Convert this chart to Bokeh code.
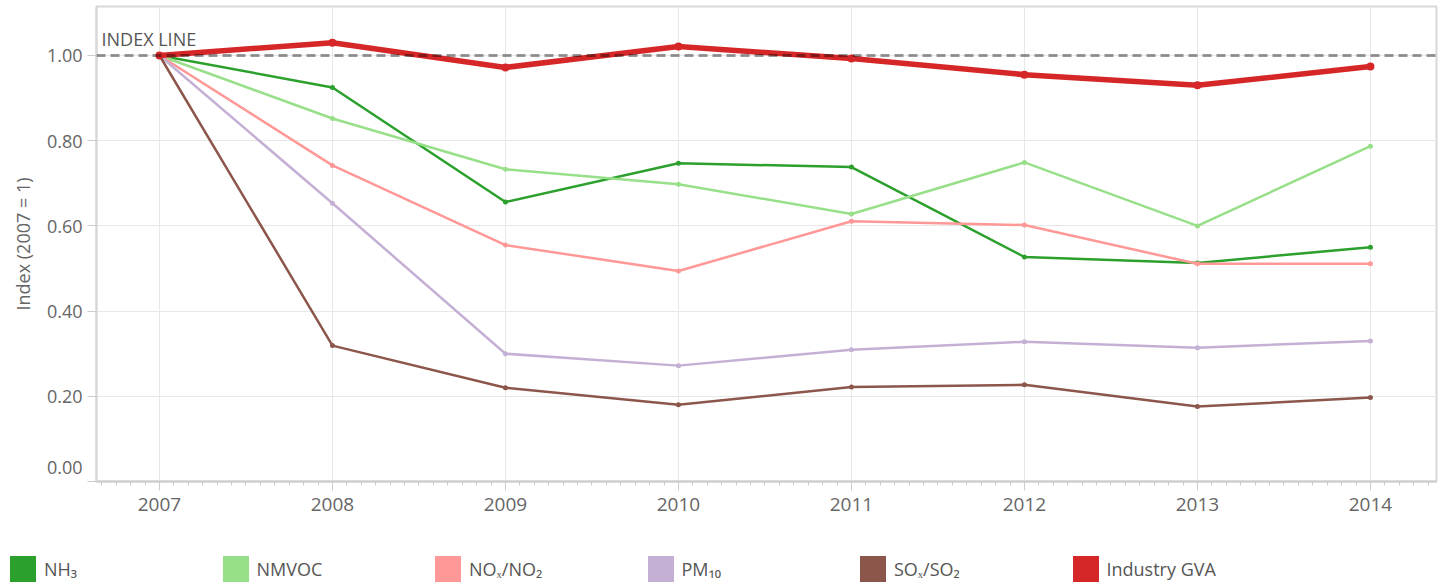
from bokeh.plotting import figure
from bokeh.layouts import column
from bokeh.models import (Range1d, SingleIntervalTicker, NumeralTickFormatter, Span,
                          Label, Div)
from bokeh.embed import file_html
from bokeh.resources import INLINE

years = [2007, 2008, 2009, 2010, 2011, 2012, 2013, 2014]
nh3 = [1.00, 0.925, 0.656, 0.747, 0.738, 0.527, 0.513, 0.550]
nmvoc = [1.00, 0.852, 0.733, 0.698, 0.628, 0.749, 0.600, 0.787]
nox = [1.00, 0.742, 0.555, 0.494, 0.611, 0.602, 0.511, 0.511]
pm10 = [1.00, 0.653, 0.300, 0.272, 0.309, 0.328, 0.314, 0.330]
sox = [1.00, 0.319, 0.220, 0.180, 0.222, 0.227, 0.176, 0.197]
gva = [1.00, 1.030, 0.972, 1.021, 0.993, 0.955, 0.930, 0.974]

labels = ["NH\u2083", "NMVOC", "NO\u2093/NO\u2082", "PM\u2081\u2080", "SO\u2093/SO\u2082", "Industry GVA"]
colors = ["#2ca02c", "#98df8a", "#ff9896", "#c5b0d5", "#8c564b", "#d62728"]
series = [nh3, nmvoc, nox, pm10, sox, gva]
widths = [2.5, 2.5, 2.5, 2.5, 2.5, 5.5]
msizes = [5, 5, 5, 5, 5, 8]

FONT = "Open Sans"
X0, X1 = 2006.636, 2014.382

p = figure(width=1445, height=540, output_backend="svg", toolbar_location=None,
           x_range=Range1d(X0, X1), y_range=Range1d(0, 1.115),
           min_border_left=96, min_border_right=9, min_border_top=6, min_border_bottom=59)
p.background_fill_color = "white"
p.border_fill_color = "white"
p.outline_line_color = "#d8d8d8"
p.outline_line_width = 2

xt = SingleIntervalTicker(interval=1, num_minor_ticks=12)
yt = SingleIntervalTicker(interval=0.2, num_minor_ticks=0)
p.xaxis.ticker = xt
p.xgrid.ticker = xt
p.yaxis.ticker = yt
p.ygrid.ticker = yt
p.xgrid.grid_line_color = "#e8e8e8"
p.ygrid.grid_line_color = "#e8e8e8"

xa = p.xaxis[0]
xa.axis_line_color = "#cccccc"
xa.axis_line_width = 2
xa.major_tick_line_color = "#cccccc"
xa.minor_tick_line_color = "#cccccc"
xa.major_tick_out = 9
xa.major_tick_in = 0
xa.minor_tick_out = 4
xa.minor_tick_in = 0
xa.major_label_text_font = FONT
xa.major_label_text_font_size = "19px"
xa.major_label_text_color = "#666666"
xa.major_label_standoff = 7

ya = p.yaxis[0]
ya.formatter = NumeralTickFormatter(format="0.00")
ya.major_label_overrides = {0: "0.00\n"}
ya.axis_line_color = "#d8d8d8"
ya.axis_line_width = 2
ya.major_tick_line_color = "#cccccc"
ya.major_tick_out = 9
ya.major_tick_in = 0
ya.minor_tick_line_color = None
ya.major_label_text_font = FONT
ya.major_label_text_font_size = "18px"
ya.major_label_text_color = "#666666"
ya.major_label_standoff = 5
ya.axis_label = "Index (2007 = 1)"
ya.axis_label_text_font = FONT
ya.axis_label_text_font_size = "18px"
ya.axis_label_text_font_style = "normal"
ya.axis_label_text_color = "#666666"
ya.axis_label_standoff = 9

for vals, c, w, s in zip(series, colors, widths, msizes):
    p.line(years, vals, line_color=c, line_width=w)
    p.scatter(years, vals, size=s, fill_color=c, line_color=None)

p.add_layout(Span(location=1.0, dimension="width", line_color="black", line_alpha=0.4,
                  line_width=3, line_dash="9 5"))

p.add_layout(Label(x=X0, y=1.0, x_offset=5, y_offset=16, text="INDEX LINE",
                   text_font=FONT, text_font_size="18px", text_color="#555555",
                   text_baseline="middle"))

# legend strip below the chart
parts = ['<div style="position:relative;width:1445px;height:42px;overflow:hidden;'
         'font-family:\'Open Sans\';font-size:18px;color:#555555;">']
for i, (lab, c) in enumerate(zip(labels, colors)):
    left = 10 + i * 212.5
    parts.append(f'<div style="position:absolute;left:{left}px;top:16px;width:26px;'
                 f'height:26px;background:{c};"></div>')
    parts.append(f'<div style="position:absolute;left:{left + 34}px;top:16px;height:26px;'
                 f'line-height:26px;white-space:nowrap;">{lab}</div>')
parts.append('</div>')
legend_div = Div(text="".join(parts), width=1445, height=42, margin=0)

layout = column(p, legend_div, spacing=0)
open("out.html", "w").write(file_html(layout, INLINE))
